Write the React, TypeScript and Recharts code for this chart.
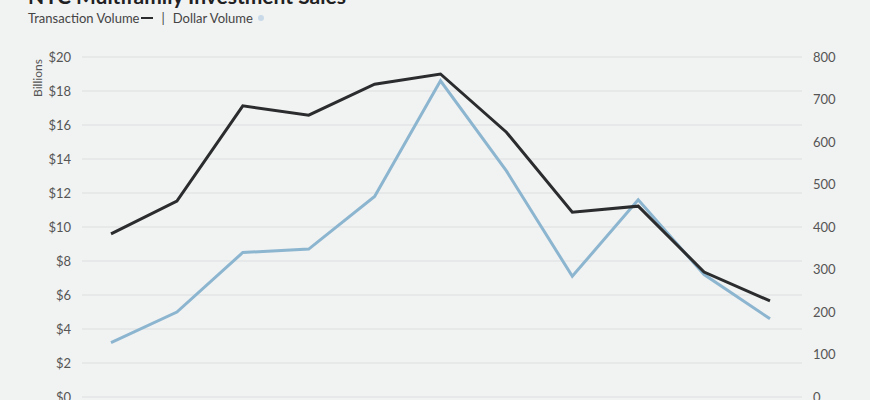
import { LineChart, Line, XAxis, YAxis, CartesianGrid, Legend } from "recharts";

const YEARS = ["2010", "2011", "2012", "2013", "2014", "2015", "2016", "2017", "2018", "2019", "2020"];
// dollar volume, $ billions (left axis)
const DOLLAR_VOLUME = [3.2, 5.0, 8.5, 8.7, 11.8, 18.6, 13.3, 7.1, 11.6, 7.2, 4.6];
// number of transactions (right axis)
const TRANSACTIONS = [384, 461, 685, 663, 736, 760, 623, 435, 449, 294, 226];

const LEFT_TICKS = [0, 2, 4, 6, 8, 10, 12, 14, 16, 18, 20];
const RIGHT_TICKS = [0, 100, 200, 300, 400, 500, 600, 700, 800];

const data = YEARS.map((year, i) => ({
  year,
  dollars: DOLLAR_VOLUME[i],
  transactions: TRANSACTIONS[i],
}));

const FONT = "Lato, 'Open Sans', sans-serif";
const DARK = "#2a2c2d";
const BLUE = "#8cb5d0";

const tickStyle = { fill: "#555", fontSize: 13, fontFamily: FONT };

const renderLegend = () => (
  <div style={{ fontFamily: FONT, fontSize: 13, color: "#444", display: "flex", alignItems: "center", height: 16 }}>
    <span>Transaction Volume</span>
    <span style={{ display: "inline-block", width: 12, height: 2, background: DARK, margin: "0 8px 0 2px" }} />
    <span>|</span>
    <span style={{ marginLeft: 8 }}>Dollar Volume</span>
    <span
      style={{
        display: "inline-block",
        width: 6,
        height: 6,
        borderRadius: 3,
        background: "#c9d9e8",
        marginLeft: 5,
      }}
    />
  </div>
);

// eslint-disable-next-line @typescript-eslint/no-explicit-any
const renderBillions = (props: any) => {
  const vb = props.viewBox ?? { x: 0, y: 0 };
  const x = vb.x + 37;
  const y = vb.y + 21;
  return (
    <text
      x={x}
      y={y}
      transform={`rotate(-90 ${x} ${y})`}
      textAnchor="middle"
      dominantBaseline="central"
      fill="#555"
      fontSize={12}
      fontFamily={FONT}
    >
      Billions
    </text>
  );
};

export default function App() {
  return (
    <div
      style={{
        position: "fixed",
        top: 0,
        left: 0,
        width: 870,
        height: 400,
        overflow: "hidden",
        background: "#f1f2f2",
      }}
    >
      <div
        style={{
          position: "absolute",
          top: -15,
          left: 28,
          fontFamily: FONT,
          fontWeight: 700,
          fontSize: 21,
          lineHeight: "21px",
          color: "#1f2123",
          whiteSpace: "nowrap",
        }}
      >
        NYC Multifamily Investment Sales
      </div>
      <LineChart
        width={870}
        height={440}
        data={data}
        margin={{ top: 41, right: 0, bottom: 13, left: 0 }}
      >
        <CartesianGrid yAxisId="left" vertical={false} stroke="#dcdedf" strokeWidth={1} />
        <XAxis
          dataKey="year"
          axisLine={false}
          tickLine={false}
          tick={false}
          height={30}
          padding={{ left: 29, right: 32 }}
        />
        <YAxis
          yAxisId="left"
          orientation="left"
          width={82}
          domain={[0, 20]}
          ticks={LEFT_TICKS}
          interval={0}
          axisLine={false}
          tickLine={false}
          tickMargin={5}
          tick={tickStyle}
          tickFormatter={(v: number) => `$${v}`}
          label={renderBillions}
        />
        <YAxis
          yAxisId="right"
          orientation="right"
          width={68}
          domain={[0, 800]}
          ticks={RIGHT_TICKS}
          interval={0}
          axisLine={false}
          tickLine={false}
          tickMargin={5}
          tick={{ ...tickStyle, textAnchor: "start" }}
        />
        <Legend
          verticalAlign="top"
          align="left"
          content={renderLegend}
          wrapperStyle={{ position: "absolute", top: 10, left: 28, width: "auto" }}
        />
        <Line
          yAxisId="left"
          type="linear"
          dataKey="dollars"
          stroke={BLUE}
          strokeWidth={3}
          dot={false}
          isAnimationActive={false}
        />
        <Line
          yAxisId="right"
          type="linear"
          dataKey="transactions"
          stroke={DARK}
          strokeWidth={3}
          dot={false}
          isAnimationActive={false}
        />
      </LineChart>
    </div>
  );
}
